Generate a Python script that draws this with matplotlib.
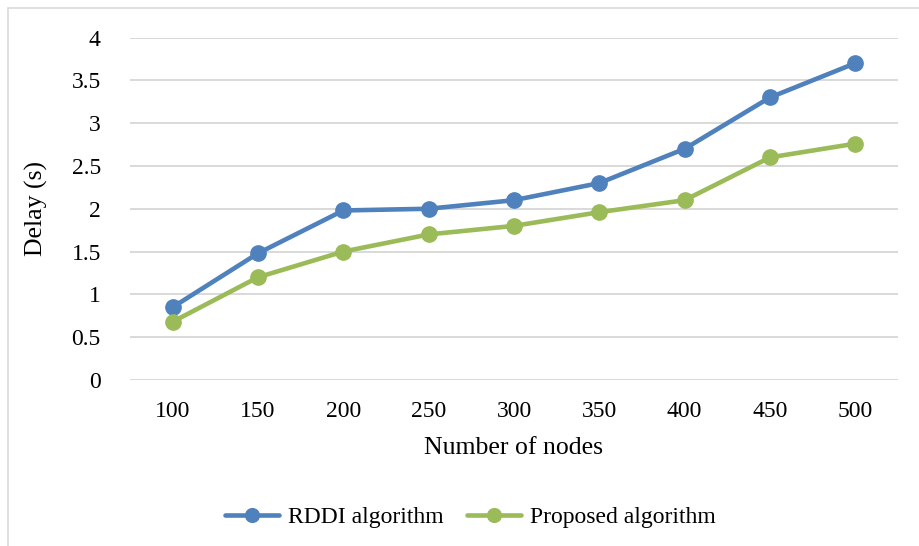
import matplotlib
matplotlib.use("Agg")
import matplotlib.pyplot as plt
from matplotlib.patches import Rectangle

plt.rcParams['font.family'] = ['Liberation Serif', 'DejaVu Serif']

nodes = ["100", "150", "200", "250", "300", "350", "400", "450", "500"]
rddi = [0.85, 1.48, 1.98, 2.0, 2.1, 2.3, 2.7, 3.3, 3.7]
proposed = [0.68, 1.2, 1.5, 1.7, 1.8, 1.96, 2.1, 2.6, 2.76]
yticks = [0, 0.5, 1, 1.5, 2, 2.5, 3, 3.5, 4]
ytick_labels = ["0", "0.5", "1", "1.5", "2", "2.5", "3", "3.5", "4"]

W, H = 919, 546
fig = plt.figure(figsize=(W / 100, H / 100), dpi=100)

# outer chart border
fig.patches.append(Rectangle((8 / W, -0.1), 1.2, (H - 8) / H + 0.1,
                             transform=fig.transFigure, fill=False,
                             edgecolor="#D9D9D9", linewidth=1.2))

ax = fig.add_axes([130 / W, 1 - 380 / H, (898 - 130) / W, (380 - 37.5) / H])
x = range(len(nodes))
ax.plot(x, rddi, color="#4F81BD", lw=3.3, marker="o", ms=11, label="RDDI algorithm",
        solid_capstyle="round", zorder=3)
ax.plot(x, proposed, color="#9BBB59", lw=3.3, marker="o", ms=11, label="Proposed algorithm",
        solid_capstyle="round", zorder=3)

ax.set_xlim(-0.5, len(nodes) - 0.5)
ax.set_ylim(0, 4)
ax.set_yticks(yticks)
ax.set_yticklabels(ytick_labels)
ax.set_xticks(list(x))
ax.set_xticklabels(nodes)
ax.grid(axis="y", color="#D9D9D9", linewidth=1.4)
ax.set_axisbelow(True)
for s in ax.spines.values():
    s.set_visible(False)
ax.tick_params(length=0, labelsize=17, colors="black")
ax.tick_params(axis="x", pad=15)
ax.tick_params(axis="y", pad=21)

ax.set_xlabel("Number of nodes", fontsize=18.5, labelpad=11)
ax.set_ylabel("Delay (s)", fontsize=18.5, labelpad=17)

ax.legend(loc="center", bbox_to_anchor=(0.443, -0.40), ncol=2, frameon=False,
          fontsize=17, handlelength=2.3, columnspacing=1.0, handletextpad=0.35,
          markerscale=0.9)

fig.savefig("out.png", dpi=100)
